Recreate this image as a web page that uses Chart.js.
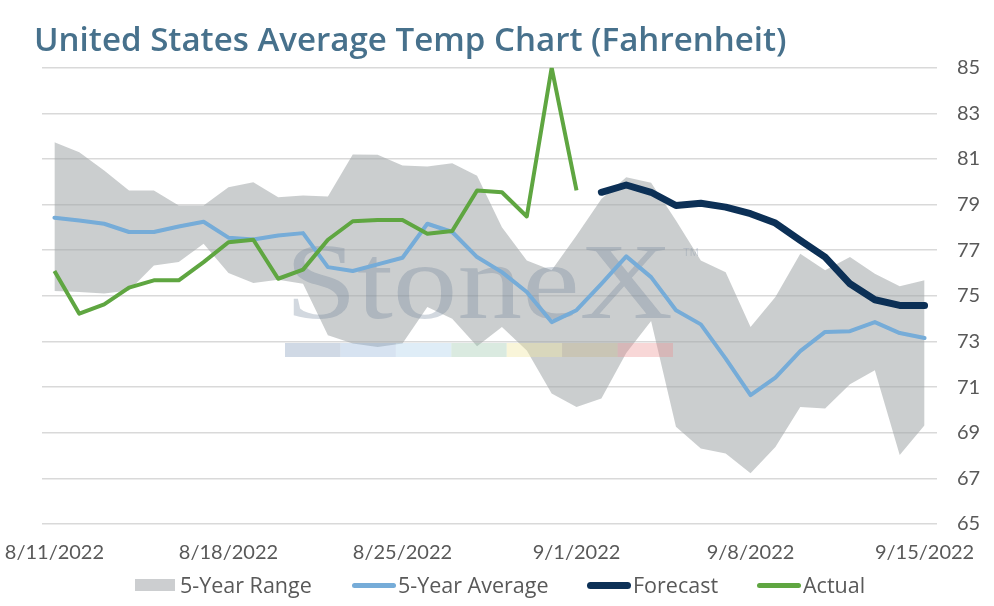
<!DOCTYPE html>
<html>
<head>
<meta charset="utf-8">
<script src="https://cdn.jsdelivr.net/npm/chart.js@4.4.0/dist/chart.umd.min.js"></script>
<style>
  html, body { margin: 0; padding: 0; background: #fff; }
  #wrap { position: relative; width: 994px; height: 606px; }
  #legend { position: absolute; left: 0; top: 571px; width: 994px; height: 28px;
    font-family: 'Open Sans'; font-size: 21.5px; color: #595959; }
  .item { position: absolute; top: 0; height: 28px; line-height: 28px; white-space: nowrap; }
  .sw { position: absolute; top: 50%; }
  .txt { position: absolute; top: 0; }
</style>
</head>
<body>
<div id="wrap">
  <canvas id="tempChart" width="994" height="606"></canvas>
  <div id="legend"></div>
</div>
<script>
// categories (one per day)
var dates = ['8/11/2022','8/12/2022','8/13/2022','8/14/2022','8/15/2022','8/16/2022','8/17/2022',
  '8/18/2022','8/19/2022','8/20/2022','8/21/2022','8/22/2022','8/23/2022','8/24/2022',
  '8/25/2022','8/26/2022','8/27/2022','8/28/2022','8/29/2022','8/30/2022','8/31/2022',
  '9/1/2022','9/2/2022','9/3/2022','9/4/2022','9/5/2022','9/6/2022','9/7/2022',
  '9/8/2022','9/9/2022','9/10/2022','9/11/2022','9/12/2022','9/13/2022','9/14/2022','9/15/2022'];
var tickLabels = ['8/11/2022','8/18/2022','8/25/2022','9/1/2022','9/8/2022','9/15/2022'];

// series
var rangeLow = [75.21,75.17,75.1,75.24,76.33,76.48,77.28,76.0,75.56,75.71,75.53,73.27,72.91,72.76,72.91,74.51,74.0,72.79,
  73.63,72.61,70.72,70.13,70.5,72.5,73.9,69.26,68.31,68.09,67.22,68.38,70.13,70.06,71.13,71.74,68.02,69.33];
var rangeHigh = [81.73,81.3,80.5,79.62,79.62,78.96,78.96,79.76,79.98,79.32,79.4,79.35,81.2,81.18,80.71,80.67,80.81,80.27,
  78.01,76.55,76.12,77.65,79.25,80.2,79.96,78.3,76.55,76.04,73.63,74.95,76.85,76.12,76.7,75.97,75.42,75.68];
var avg5 = [78.42,78.3,78.16,77.8,77.8,78.04,78.25,77.55,77.47,77.65,77.75,76.26,76.09,76.38,76.67,78.16,77.8,76.7,
  76.04,75.17,73.85,74.37,75.53,76.73,75.82,74.37,73.75,72.25,70.65,71.42,72.58,73.42,73.45,73.85,73.37,73.15];
var actual = [76.09,74.22,74.63,75.36,75.68,75.68,76.48,77.35,77.46,75.75,76.15,77.46,78.27,78.33,78.33,77.72,77.84,
  79.62,79.54,78.48,85.0,79.62];
var forecast = [79.54,79.86,79.54,78.96,79.06,78.89,78.6,78.19,77.43,76.7,75.53,74.83,74.58,74.58];
var forecastStart = 22;

function pts(arr, start) {
  var out = [];
  for (var i = 0; i < arr.length; i++) out.push({x: i + (start || 0), y: arr[i]});
  return out;
}

var txt = '#595959';
var titleText = 'United States Average Temp Chart (Fahrenheit)';

// size the title so it spans the same width as the original
var mctx = document.createElement('canvas').getContext('2d');
mctx.font = '600 32px "Open Sans"';
var titleSize = Math.round(32 * 754 / mctx.measureText(titleText).width * 10) / 10;

// faint StoneX watermark, sits above the range band and under the lines
var watermark = {
  id: 'watermark',
  afterDatasetDraw: function(chart, args) {
    if (args.index !== 1) return;
    var ctx = chart.ctx;
    ctx.save();
    ctx.font = '108px "Liberation Serif"';
    var w = ctx.measureText('StoneX').width;
    ctx.translate(285, 318);
    ctx.scale(388 / w, 1);
    ctx.fillStyle = 'rgba(105,125,150,0.3)';
    ctx.fillText('StoneX', 0, 0);
    ctx.restore();
    ctx.save();
    ctx.font = '11px "Liberation Sans"';
    ctx.fillStyle = 'rgba(105,125,150,0.25)';
    ctx.fillText('TM', 683, 256);
    var bars = ['rgba(120,145,180,0.35)','rgba(140,175,215,0.35)','rgba(175,210,235,0.4)','rgba(150,195,165,0.35)',
      'rgba(240,230,160,0.4)','rgba(195,175,120,0.3)','rgba(235,140,140,0.35)'];
    var bw = 388 / bars.length;
    for (var i = 0; i < bars.length; i++) {
      ctx.fillStyle = bars[i];
      ctx.fillRect(285 + i * bw, 343, bw, 14);
    }
    ctx.restore();
  }
};

var ctx = document.getElementById('tempChart');
var chart = new Chart(ctx, {
  type: 'line',
  data: {
    datasets: [
      { label: 'low', data: pts(rangeLow), borderWidth: 0, pointRadius: 0, fill: false, order: 5 },
      {
        label: '5-Year Range',
        data: pts(rangeHigh),
        borderWidth: 0,
        pointRadius: 0,
        backgroundColor: 'rgba(160,166,168,0.55)',
        fill: '-1',
        order: 4
      },
      {
        label: '5-Year Average',
        data: pts(avg5),
        borderColor: '#76acd8',
        borderWidth: 4,
        pointRadius: 0,
        borderJoinStyle: 'round',
        borderCapStyle: 'round',
        order: 3
      },
      {
        label: 'Forecast',
        data: pts(forecast, forecastStart),
        borderColor: '#0c3056',
        borderWidth: 7,
        pointRadius: 0,
        borderJoinStyle: 'round',
        borderCapStyle: 'round',
        order: 2
      },
      {
        label: 'Actual',
        data: pts(actual),
        borderColor: '#5fa641',
        borderWidth: 4,
        pointRadius: 0,
        borderJoinStyle: 'round',
        order: 1
      }
    ]
  },
  options: {
    responsive: false,
    animation: false,
    layout: { padding: { left: 34, right: 11, top: 0, bottom: 24 } },
    scales: {
      x: {
        type: 'linear',
        min: -0.5,
        max: 35.5,
        grid: { display: false, drawTicks: false },
        border: { display: false },
        afterBuildTicks: function(axis) {
          axis.ticks = tickLabels.map(function(t, i) { return {value: i * 7}; });
        },
        afterFit: function(axis) {
          // first/last date labels are allowed to hang past the plot edges
          axis.paddingLeft = 42;
          axis.paddingRight = 0;
        },
        ticks: {
          color: txt,
          font: { family: 'Lato', size: 20 },
          maxRotation: 0,
          autoSkip: false,
          padding: 17,
          callback: function(v) { return dates[v]; }
        }
      },
      y: {
        position: 'right',
        min: 65,
        max: 85,
        grid: { color: '#d9d9d9', lineWidth: 1.5, drawTicks: false },
        border: { display: false },
        afterFit: function(axis) { axis.width = 46; },
        ticks: {
          stepSize: 2,
          color: txt,
          font: { family: 'Lato', size: 20 },
          padding: 20
        }
      }
    },
    plugins: {
      title: {
        display: true,
        text: titleText,
        align: 'start',
        color: '#47718c',
        font: { family: 'Open Sans', size: titleSize, weight: '600' },
        padding: { top: 22, bottom: 6 }
      },
      legend: { display: false },
      tooltip: { enabled: false }
    }
  },
  plugins: [watermark]
});

// legend under the axis, one entry per shown dataset
var legendItems = [
  { ds: 1, left: 135, kind: 'box' },
  { ds: 2, left: 352, kind: 'line', w: 5 },
  { ds: 3, left: 587, kind: 'line', w: 7 },
  { ds: 4, left: 757, kind: 'line', w: 5 }
];
var legend = document.getElementById('legend');
legendItems.forEach(function(it) {
  var ds = chart.data.datasets[it.ds];
  var el = document.createElement('div');
  el.className = 'item';
  el.style.left = it.left + 'px';
  var sw = document.createElement('div');
  sw.className = 'sw';
  if (it.kind === 'box') {
    sw.style.cssText = 'left:0;width:40px;height:12px;margin-top:-6px;background:#ccced0;';
  } else {
    sw.style.cssText = 'left:0;width:44px;height:' + it.w + 'px;margin-top:' + (-it.w / 2) +
      'px;border-radius:' + it.w + 'px;background:' + ds.borderColor + ';';
  }
  var t = document.createElement('span');
  t.className = 'txt';
  t.style.left = (it.kind === 'box' ? 45 : 46) + 'px';
  t.textContent = ds.label;
  el.appendChild(sw);
  el.appendChild(t);
  legend.appendChild(el);
});
</script>
</body>
</html>
